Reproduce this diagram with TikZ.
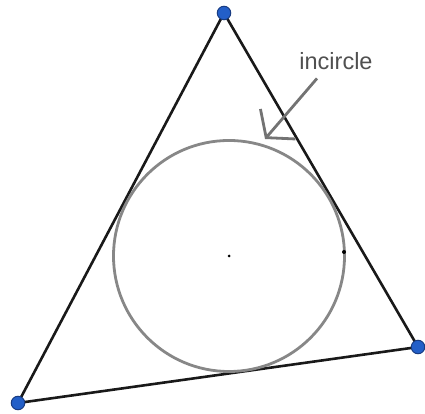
\documentclass[tikz,border=0pt]{standalone}
\usepackage{fontspec}
\setmainfont{Liberation Sans}
\usetikzlibrary{arrows.meta,backgrounds}
\definecolor{vertexblue}{RGB}{35, 95, 200}
\definecolor{vertexrim}{RGB}{25, 60, 130}
\definecolor{circlegray}{RGB}{135, 135, 135}
\definecolor{labelgray}{RGB}{80, 80, 80}
\definecolor{pointergray}{RGB}{115, 115, 115}

\begin{document}
\begin{tikzpicture}[
  x=1pt, y=1pt,
  vertex/.style={
    circle,
    draw=vertexrim,
    fill=vertexblue,
    line width=1pt,
    inner sep=0pt,
    minimum size=13.5pt
  },
  side/.style={
    draw=black!90,
    line width=2.6pt,
    line join=round
  },
  incircle/.style={
    draw=circlegray,
    line width=2.8pt
  },
  pointer/.style={
    draw=pointergray,
    line width=2.8pt,
    -{Straight Barb[length=18pt,width=46pt]}
  }
]
  \useasboundingbox (0,0) rectangle (425,414);

  % Vertices of the triangle
  \node[vertex] (A) at (224,401) {};
  \node[vertex] (B) at (18,11) {};
  \node[vertex] (C) at (418,67) {};

  % Sides, behind the vertex dots
  \begin{scope}[on background layer]
    \draw[side] (A.center) -- (B.center) -- (C.center) -- cycle;
  \end{scope}

  % Inscribed circle with centre and touch point
  \node[incircle, circle, minimum size=231pt, inner sep=0pt] (ring) at (229,158) {};
  \node[circle, fill=black, inner sep=0pt, minimum size=3pt] (centre) at (ring.center) {};
  \node[circle, fill=black, inner sep=0pt, minimum size=4pt] (touch) at (344,162) {};

  % Label and its pointer
  \node[anchor=base, inner sep=0pt, font=\fontsize{23.5}{26}\selectfont, text=labelgray] (label) at (336,344) {incircle};
  \coordinate (tip) at (265,275);
  \draw[pointer] ([xshift=-19pt,yshift=-8pt]label.south) -- (tip);

\end{tikzpicture}
\end{document}
